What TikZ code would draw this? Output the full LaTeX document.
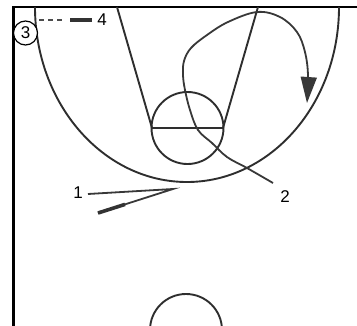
\documentclass[tikz,border=0pt]{standalone}
\usepackage{fontspec}
\setmainfont{Liberation Sans}
\usetikzlibrary{arrows.meta}
\begin{document}
\begin{tikzpicture}[x=1pt,y=-1pt,
  court/.style={line width=1.9pt, draw=black!82},
  frameline/.style={line width=2.6pt, draw=black},
  play/.style={line width=1.8pt, draw=black!78},
  lbl/.style={font=\fontsize{17}{17}\selectfont, inner sep=0pt},
]
\useasboundingbox (0,0) rectangle (357,325);
\begin{scope}
\clip (0,0) rectangle (357,325);
% frame
\draw[frameline] (13.5,326) -- (13.5,7) -- (358,7);
% three-point arc
\draw[court] (339,7) arc[start angle=0, end angle=180, x radius=152, y radius=175];
% lane and free-throw line
\draw[court] (117,7) -- (152,128) -- (223,128) -- (258,7);
% free-throw circle
\draw[court] (187.5,128) circle[radius=36];
% center circle
\draw[court] (186,330) circle[radius=36];
\end{scope}
% players
\node[draw, circle, line width=1.2pt, minimum size=24pt, inner sep=0pt, lbl, fill=white] (p3) at (25.5,33) {3};
\node[lbl] (p4) at (102,20) {4};
\node[lbl] (p1) at (78,193) {1};
\node[lbl] (p2) at (285,197) {2};
% player 4 movement
\draw[line width=1.6pt, draw=black!70, dash pattern=on 5pt off 4pt] (39,20) -- (64,20);
\draw[line width=3.6pt, draw=black!80] (70,20) -- (92,20);
% player 1 movement
\draw[play] (88,194) -- (173,189) -- (98,213);
\draw[line width=3.6pt, draw=black!80] (98,213) -- (125,204.4);
% player 2 movement
\draw[play, -{Triangle[length=26pt,width=16pt]}] plot[smooth, tension=0.6] coordinates {(273,183) (247,168) (227,157) (212,143) (198,130) (190,110) (185,90) (183,75) (184,61) (191,48) (207,35) (228,22) (257,12) (280,17) (297,32) (305,52) (308,75) (307,103)};
\end{tikzpicture}
\end{document}
